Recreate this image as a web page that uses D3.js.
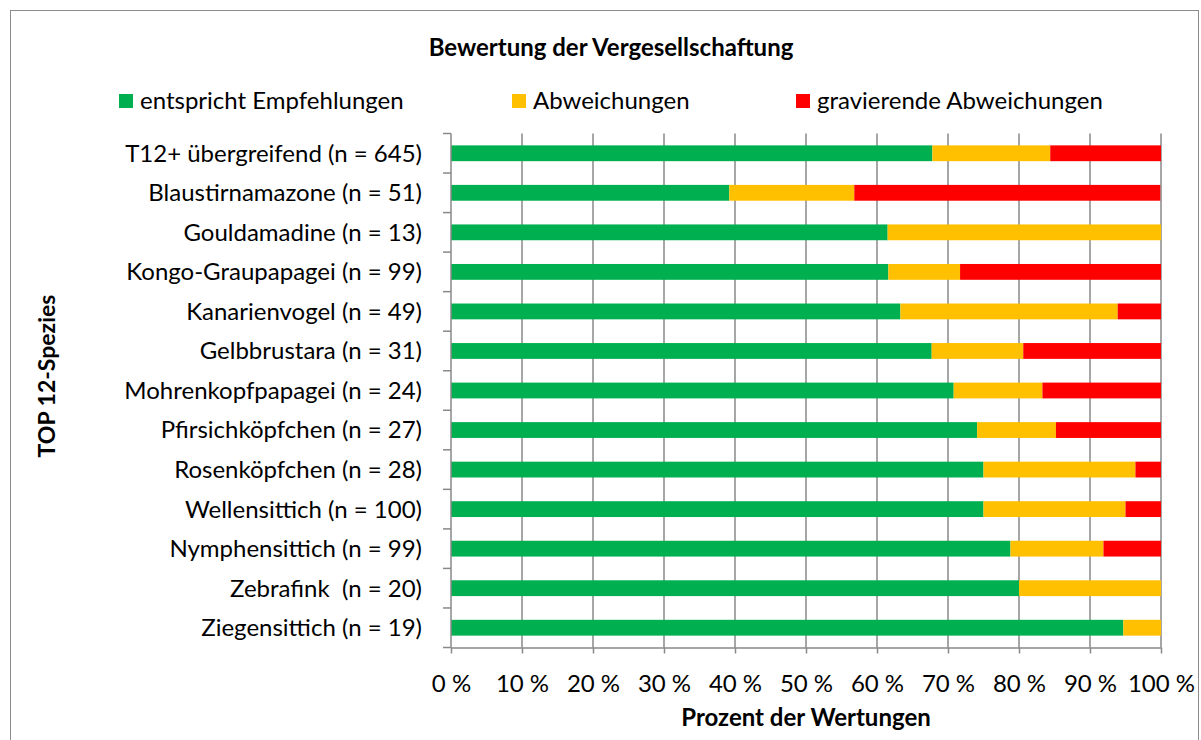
<!DOCTYPE html>
<html><head><meta charset="utf-8">
<script src="https://cdn.jsdelivr.net/npm/d3@7"></script>
<style>
html,body{margin:0;padding:0;background:#fff;}
svg text{font-family:Lato,"Open Sans",sans-serif;fill:#000;}
</style></head>
<body>
<svg id="c" width="1201" height="740"></svg>
<script>
const categories = [
  "T12+ übergreifend (n = 645)",
  "Blaustirnamazone (n = 51)",
  "Gouldamadine (n = 13)",
  "Kongo-Graupapagei (n = 99)",
  "Kanarienvogel (n = 49)",
  "Gelbbrustara (n = 31)",
  "Mohrenkopfpapagei (n = 24)",
  "Pfirsichköpfchen (n = 27)",
  "Rosenköpfchen (n = 28)",
  "Wellensittich (n = 100)",
  "Nymphensittich (n = 99)",
  "Zebrafink  (n = 20)",
  "Ziegensittich (n = 19)"
];
const seriesNames = ["entspricht Empfehlungen", "Abweichungen", "gravierende Abweichungen"];
const entspricht = [67.8, 39.2, 61.5, 61.6, 63.3, 67.7, 70.8, 74.1, 75.0, 75.0, 78.8, 80.0, 94.7];
const abweichungen = [16.6, 17.6, 38.5, 10.1, 30.6, 12.9, 12.5, 11.1, 21.4, 20.0, 13.1, 20.0, 5.3];
const gravierend = [15.6, 43.1, 0.0, 28.3, 6.1, 19.4, 16.7, 14.8, 3.6, 5.0, 8.1, 0.0, 0.0];
const xTicks = [0, 10, 20, 30, 40, 50, 60, 70, 80, 90, 100];
const colors = ["#00B050", "#FFC000", "#FF0000"];

(function () {
const svg = d3.select("#c");
const pl = 451, pr = 1161, pt = 133.5, pb = 647.5;
const fs = 24, fsb = 24;

svg.append("rect").attr("x", 10.5).attr("y", 10.5).attr("width", 1188).attr("height", 740)
  .attr("fill", "none").attr("stroke", "#8c8c8c").attr("stroke-width", 1);

const x = d3.scaleLinear().domain([0, 100]).range([pl, pr]);
const y = d3.scaleBand().domain(categories).range([pt, pb]).paddingInner(0.6).paddingOuter(0.3);

// gridlines
svg.append("g").selectAll("line").data(xTicks.filter(d => d > 0)).join("line")
  .attr("x1", d => x(d)).attr("x2", d => x(d)).attr("y1", pt).attr("y2", pb)
  .attr("stroke", "#898989").attr("stroke-width", 1.5);

// stacked bars
const stackData = categories.map((c, i) => ({cat: c, s0: entspricht[i], s1: abweichungen[i], s2: gravierend[i]}));
const stack = d3.stack().keys(["s0", "s1", "s2"])(stackData);
svg.append("g").selectAll("g").data(stack).join("g").attr("fill", (d, i) => colors[i])
  .selectAll("rect").data(d => d).join("rect")
  .attr("x", d => x(d[0])).attr("width", d => Math.max(0, x(d[1]) - x(d[0])))
  .attr("y", d => y(d.data.cat)).attr("height", y.bandwidth());

// x axis
const xAxis = svg.append("g").attr("transform", `translate(0,${pb})`)
  .call(d3.axisBottom(x).tickValues(xTicks).tickFormat(d => d + " %").tickSize(6).tickSizeOuter(0));
xAxis.select(".domain").attr("stroke", "#898989").attr("stroke-width", 1.5);
xAxis.selectAll(".tick line").attr("stroke", "#898989").attr("stroke-width", 1.5);
xAxis.selectAll(".tick text").attr("font-size", fs).attr("dy", 0).attr("y", 44)
  .style("font-family", "Lato");

// y axis labels
const yAxis = svg.append("g").attr("transform", `translate(${pl},0)`)
  .call(d3.axisLeft(y).tickSize(0).tickPadding(29));
yAxis.select(".domain").remove();
yAxis.selectAll(".tick text").attr("font-size", fs).attr("dy", "0.35em")
  .style("white-space", "pre").style("font-family", "Lato");

// y axis line + boundary ticks
svg.append("line").attr("x1", pl).attr("x2", pl).attr("y1", pt).attr("y2", pb)
  .attr("stroke", "#898989").attr("stroke-width", 1.5);
const bounds = categories.map(c => y(c) - y.step() * 0.3).concat([pb]);
svg.append("g").selectAll("line").data(bounds).join("line")
  .attr("x1", pl - 8).attr("x2", pl).attr("y1", d => d).attr("y2", d => d)
  .attr("stroke", "#898989").attr("stroke-width", 1.5);

// title
svg.append("text").attr("x", 611).attr("y", 56).attr("text-anchor", "middle")
  .attr("font-size", fsb).attr("font-weight", "bold").text("Bewertung der Vergesellschaftung");

// legend
const legendX = [119, 512, 796];
const lg = svg.append("g").selectAll("g").data(seriesNames).join("g")
  .attr("transform", (d, i) => `translate(${legendX[i]},101)`);
lg.append("rect").attr("x", 0).attr("y", -7).attr("width", 14).attr("height", 14).attr("fill", (d, i) => colors[i]);
lg.append("text").attr("x", 21).attr("y", 0).attr("dy", "0.35em").attr("font-size", fs).text(d => d);

// axis titles
svg.append("text").attr("x", (pl + pr) / 2).attr("y", 726).attr("text-anchor", "middle")
  .attr("font-size", fsb).attr("font-weight", "bold").text("Prozent der Wertungen");
svg.append("text").attr("transform", `translate(55,376) rotate(-90)`)
  .attr("text-anchor", "middle").attr("font-size", fsb - 1).attr("font-weight", "bold").text("TOP 12-Spezies");
})();
</script>
</body></html>
